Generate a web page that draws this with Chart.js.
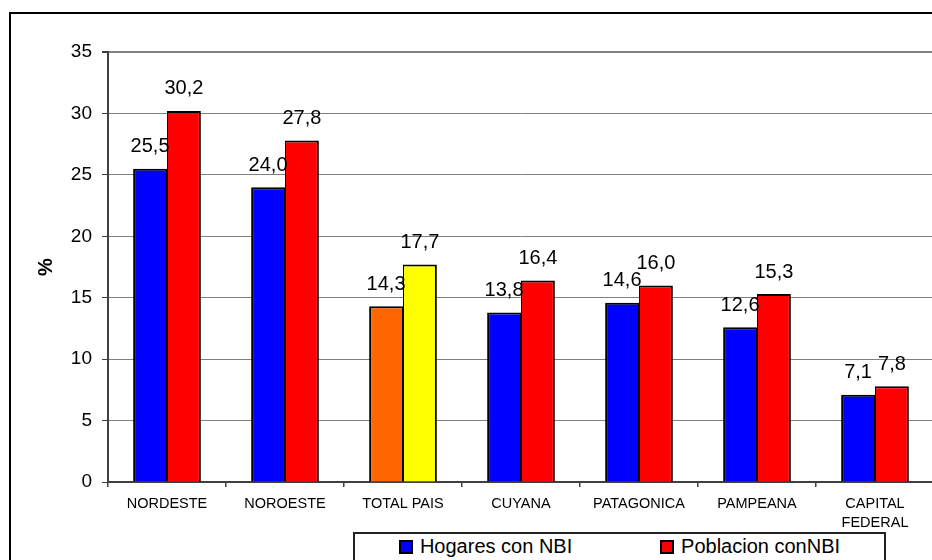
<!DOCTYPE html>
<html>
<head>
<meta charset="utf-8">
<title>Hogares y Poblacion con NBI por region</title>
<script src="https://cdn.jsdelivr.net/npm/chart.js@4/dist/chart.umd.min.js"></script>
<style>
    html, body {
        margin: 0;
        padding: 0;
        width: 932px;
        height: 560px;
        overflow: hidden;
        background: #fff;
    }

    /* outer frame of the chart object */
    #frame {
        position: absolute;
        left: 9px;
        top: 12px;
        width: 1000px;
        height: 1000px;
        border: 2px solid #000;
        box-sizing: border-box;
    }

    #chart {
        position: absolute;
        left: 0;
        top: 0;
    }

    #legend {
        position: absolute;
        left: 353px;
        top: 532px;
        width: 533px;
        height: 60px;
        box-sizing: border-box;
        border: 2px solid #222;
        background: #fff;
        display: flex;
        justify-content: space-around;
        align-items: flex-start;
        font-family: "Liberation Sans", Arial, sans-serif;
        font-size: 20px;
        line-height: 24px;
        color: #000;
    }

    #legend .item {
        display: flex;
        align-items: center;
        white-space: nowrap;
    }

    #legend .swatch {
        position: relative;
        top: 1px;
        width: 14px;
        height: 14px;
        box-sizing: border-box;
        border: 2px solid #000;
        margin-right: 7px;
    }
</style>
</head>
<body>
<div id="frame"></div>
<canvas id="chart" width="960" height="600" style="width:960px;height:600px"></canvas>
<div id="legend"></div>

<script>
    'use strict';

    // Regions, in the order they are plotted
    var categories = ['NORDESTE', 'NOROESTE', 'TOTAL PAIS', 'CUYANA', 'PATAGONICA', 'PAMPEANA', ['CAPITAL', 'FEDERAL']];

    // % of households with unmet basic needs
    var hogares = [25.5, 24.0, 14.3, 13.8, 14.6, 12.6, 7.1];

    // % of population with unmet basic needs
    var poblacion = [30.2, 27.8, 17.7, 16.4, 16.0, 15.3, 7.8];

    var seriesNames = ['Hogares con NBI', 'Poblacion conNBI'];

    var yTicks = [0, 5, 10, 15, 20, 25, 30, 35];

    var FONT = '"Liberation Sans", Arial, sans-serif';

    /**
     * The national total gets its own colours
     */
    var totalIndex = categories.indexOf('TOTAL PAIS');

    function barColors(base, highlight) {
        return categories.map(function(c, i) {
            return i === totalIndex ? highlight : base;
        });
    }

    /**
     * Draw the value above every bar, with a decimal comma
     */
    var valueLabels = {
        id: 'valueLabels',
        afterDatasetsDraw: function(chart) {
            var ctx = chart.ctx;
            ctx.save();
            ctx.font = '20px ' + FONT;
            ctx.fillStyle = '#000';
            ctx.textAlign = 'center';
            ctx.textBaseline = 'alphabetic';

            chart.data.datasets.forEach(function(ds, i) {
                chart.getDatasetMeta(i).data.forEach(function(bar, j) {
                    var text = ds.data[j].toFixed(1).replace('.', ',');
                    ctx.fillText(text, bar.x, bar.y - 16.5);
                });
            });
            ctx.restore();
        }
    };

    Chart.defaults.font.family = FONT;
    Chart.defaults.color = '#000';

    var datasets = [
        {
            label: seriesNames[0],
            data: hogares,
            backgroundColor: barColors('#0000FF', '#FF6600'),
            legendColor: '#0000FF',
            borderColor: '#000',
            borderWidth: { top: 2, left: 2, right: 1, bottom: 0 },
            categoryPercentage: 0.574,
            barPercentage: 1
        },
        {
            label: seriesNames[1],
            data: poblacion,
            backgroundColor: barColors('#FF0000', '#FFFF00'),
            legendColor: '#FF0000',
            borderColor: '#000',
            borderWidth: { top: 2, left: 1, right: 2, bottom: 0 },
            categoryPercentage: 0.574,
            barPercentage: 1
        }
    ];

    new Chart(document.getElementById('chart').getContext('2d'), {
        type: 'bar',
        data: {
            labels: categories,
            datasets: datasets
        },
        plugins: [valueLabels],
        options: {
            responsive: false,
            animation: false,
            layout: {
                padding: { top: 52, right: 26, bottom: 0, left: 0 }
            },
            plugins: {
                legend: { display: false },
                tooltip: { enabled: false }
            },
            scales: {
                x: {
                    grid: {
                        offset: true,
                        drawOnChartArea: false,
                        tickLength: 5,
                        tickColor: '#404040',
                        lineWidth: 1.5
                    },
                    border: { color: '#404040', width: 2 },
                    ticks: {
                        color: '#000',
                        font: { size: 14.5, lineHeight: 1.33 },
                        padding: 7,
                        maxRotation: 0,
                        autoSkip: false
                    },
                    afterFit: function(scale) {
                        scale.height = 118;
                    }
                },
                y: {
                    min: yTicks[0],
                    max: yTicks[yTicks.length - 1],
                    afterBuildTicks: function(scale) {
                        scale.ticks = yTicks.map(function(v) {
                            return { value: v };
                        });
                    },
                    grid: {
                        color: '#808080',
                        lineWidth: function(ctx) {
                            return ctx.tick && ctx.tick.value === 35 ? 2 : 1;
                        },
                        tickLength: 6,
                        tickColor: '#404040'
                    },
                    border: { color: '#404040', width: 2 },
                    ticks: {
                        color: '#000',
                        font: { size: 19 },
                        padding: 10
                    },
                    title: {
                        display: true,
                        text: '%',
                        color: '#000',
                        font: { size: 20, weight: 'bold' },
                        padding: { top: 34, bottom: 0 }
                    },
                    afterFit: function(scale) {
                        scale.width = 108;
                    }
                }
            }
        }
    });

    // Legend below the plot, boxed
    var legend = document.getElementById('legend');
    datasets.forEach(function(ds) {
        var item = document.createElement('div');
        item.className = 'item';
        var swatch = document.createElement('span');
        swatch.className = 'swatch';
        swatch.style.background = ds.legendColor;
        var label = document.createElement('span');
        label.textContent = ds.label;
        item.appendChild(swatch);
        item.appendChild(label);
        legend.appendChild(item);
    });
</script>
</body>
</html>
